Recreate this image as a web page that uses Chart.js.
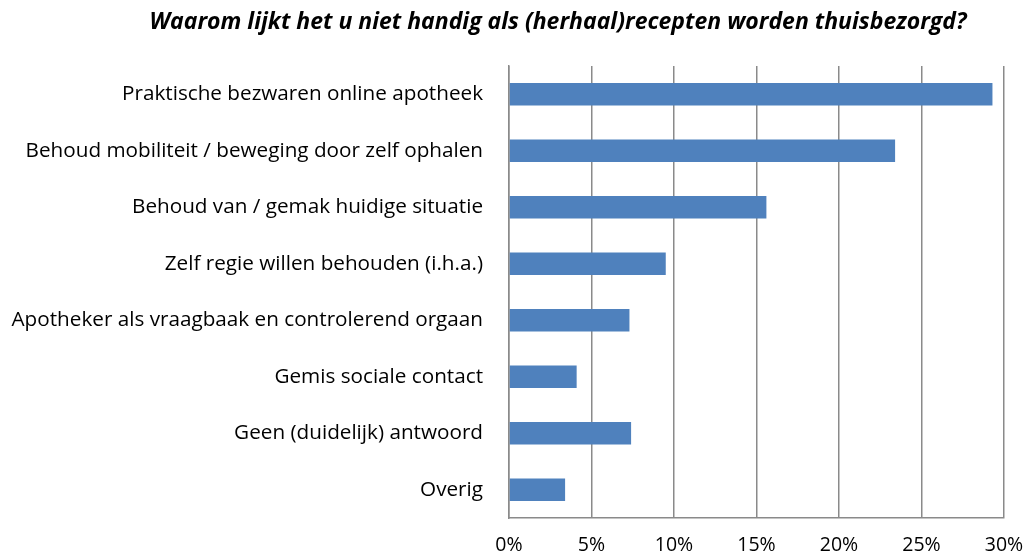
<!DOCTYPE html>
<html>
<head>
<meta charset="utf-8">
<script src="https://cdn.jsdelivr.net/npm/chart.js@4/dist/chart.umd.min.js"></script>
<style>
html,body{margin:0;padding:0;background:#fff;}
#wrap{width:1029px;height:557px;position:relative;}
</style>
</head>
<body>
<div id="wrap"><canvas id="c" width="1029" height="557"></canvas></div>
<script>
const titleText = 'Waarom lijkt het u niet handig als (herhaal)recepten worden thuisbezorgd?';
const categories = [
  'Praktische bezwaren online apotheek',
  'Behoud mobiliteit / beweging door zelf ophalen',
  'Behoud van / gemak huidige situatie',
  'Zelf regie willen behouden (i.h.a.)',
  'Apotheker als vraagbaak en controlerend orgaan',
  'Gemis sociale contact',
  'Geen (duidelijk) antwoord',
  'Overig'
];
const values = [29.3, 23.4, 15.6, 9.5, 7.3, 4.1, 7.4, 3.4];
const xTicks = [0, 5, 10, 15, 20, 25, 30];

const FONT = '"Open Sans", Lato, sans-serif';

const titlePlugin = {
  id: 'customTitle',
  afterDraw(chart) {
    const ctx = chart.ctx;
    ctx.save();
    ctx.font = 'italic bold 23px ' + FONT;
    ctx.fillStyle = '#000';
    ctx.textAlign = 'center';
    ctx.textBaseline = 'middle';
    ctx.fillText(titleText, 558, 22);
    ctx.restore();
  }
};

new Chart(document.getElementById('c'), {
  type: 'bar',
  data: {
    labels: categories,
    datasets: [{
      data: values,
      backgroundColor: '#4F81BD',
      borderWidth: 0,
      barPercentage: 0.8,
      categoryPercentage: 0.5
    }]
  },
  options: {
    indexAxis: 'y',
    responsive: false,
    animation: false,
    layout: { padding: { top: 66, right: 25, left: 0, bottom: 0 } },
    plugins: { legend: { display: false }, title: { display: false }, tooltip: { enabled: false } },
    scales: {
      x: {
        min: 0, max: 30,
        afterBuildTicks(scale) { scale.ticks = xTicks.map(v => ({ value: v })); },
        afterFit(scale) { scale.height = 39; scale.paddingLeft = 0; scale.paddingRight = 0; },
        grid: { color: '#8a8a8a', lineWidth: 1.5, drawTicks: false },
        border: { color: '#8a8a8a', width: 1.5 },
        ticks: {
          padding: 16,
          color: '#000',
          font: { family: FONT, size: 19.5 },
          callback: v => v + '%'
        }
      },
      y: {
        afterFit(scale) { scale.width = 509; scale.paddingTop = 0; scale.paddingBottom = 0; },
        grid: { display: false, drawTicks: false },
        border: { color: '#8a8a8a', width: 1.5 },
        ticks: {
          padding: 26,
          color: '#000',
          font: { family: FONT, size: 20.7 }
        }
      }
    }
  },
  plugins: [titlePlugin]
});
</script>
</body>
</html>
